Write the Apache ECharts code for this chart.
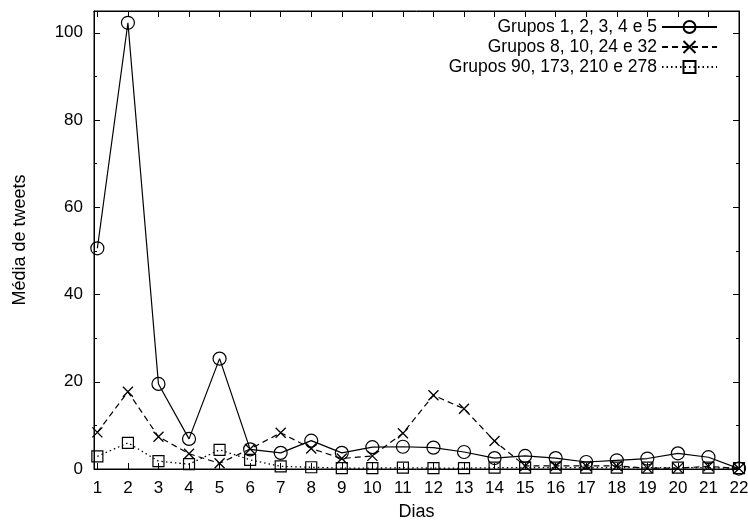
<!DOCTYPE html>
<html>
<head>
<meta charset="utf-8">
<script src="https://cdn.jsdelivr.net/npm/echarts@6/dist/echarts.min.js"></script>
<style>html,body{margin:0;padding:0;background:#fff}#c{width:748px;height:524px}</style>
</head>
<body>
<div id="c"></div>
<script>
const days = [1,2,3,4,5,6,7,8,9,10,11,12,13,14,15,16,17,18,19,20,21,22];
const seriesNames = ['Grupos 1, 2, 3, 4 e 5', 'Grupos 8, 10, 24 e 32', 'Grupos 90, 173, 210 e 278'];
const grupos1 = [50.6, 102.3, 19.5, 6.9, 25.3, 4.5, 3.7, 6.5, 3.7, 5.0, 5.1, 4.9, 3.9, 2.5, 3.0, 2.5, 1.6, 2.0, 2.4, 3.6, 2.7, 0.1];
const grupos2 = [8.4, 17.7, 7.4, 3.5, 1.3, 4.6, 8.3, 4.7, 2.4, 3.0, 8.2, 16.9, 13.8, 6.4, 0.7, 0.7, 0.7, 0.7, 0.2, 0.2, 0.6, 0.1];
const grupos3 = [2.9, 6.0, 1.8, 1.1, 4.4, 2.1, 0.6, 0.4, 0.2, 0.2, 0.3, 0.2, 0.2, 0.3, 0.3, 0.3, 0.3, 0.3, 0.3, 0.3, 0.3, 0.2];
const yTicks = [0, 20, 40, 60, 80, 100];

const font = '"Liberation Sans", Arial, Helvetica, sans-serif';
const fs = 17;
const chart = echarts.init(document.getElementById('c'));
const pair = v => days.map((d, i) => [d, v[i]]);
const xMin = 0.89, xMax = 22, yMin = 0, yMax = 105;

const xBase = {
  type: 'value', min: xMin, max: xMax,
  axisLine: {show: true, onZero: false, lineStyle: {color: '#000', width: 1}},
  axisTick: {show: true, inside: true, length: 6, customValues: days, lineStyle: {color: '#000'}},
  splitLine: {show: false}
};
const yBase = {
  type: 'value', min: yMin, max: yMax, interval: 20,
  axisLine: {show: true, onZero: false, lineStyle: {color: '#000', width: 1}},
  axisTick: {show: true, inside: true, length: 6, customValues: yTicks, lineStyle: {color: '#000'}},
  minorTick: {show: true, splitNumber: 2, length: 3, lineStyle: {color: '#000'}},
  splitLine: {show: false}
};

chart.setOption({
  animation: false,
  backgroundColor: '#fff',
  textStyle: {fontFamily: font, color: '#000'},
  grid: {left: 94, right: 9, top: 11, bottom: 55, show: true, borderColor: '#000', borderWidth: 1, containLabel: false, outerBoundsMode: 'none'},
  legend: {
    orient: 'vertical', right: 25, top: 13, align: 'right',
    itemWidth: 55, itemHeight: 15, itemGap: 2,
    textStyle: {fontFamily: font, fontSize: 17.5, lineHeight: 15, color: '#000'},
    data: seriesNames
  },
  xAxis: [
    Object.assign({}, xBase, {
      position: 'bottom', name: 'Dias', nameLocation: 'middle', nameGap: 34,
      nameTextStyle: {fontFamily: font, fontSize: 18, color: '#000'},
      axisLabel: {show: true, customValues: days, fontFamily: font, fontSize: fs, color: '#000', margin: 11}
    }),
    Object.assign({}, xBase, {position: 'top', axisLabel: {show: false}})
  ],
  yAxis: [
    Object.assign({}, yBase, {
      position: 'left', name: 'Média de tweets', nameLocation: 'middle', nameGap: 65,
      nameTextStyle: {fontFamily: font, fontSize: 18, color: '#000'},
      axisLabel: {show: true, customValues: yTicks, fontFamily: font, fontSize: fs, color: '#000', margin: 11}
    }),
    Object.assign({}, yBase, {position: 'right', axisLabel: {show: false}})
  ],
  series: [
    {
      name: seriesNames[0], type: 'line', data: pair(grupos1),
      symbol: 'circle', symbolSize: 13,
      lineStyle: {color: '#000', width: 1.2, type: 'solid'},
      itemStyle: {color: 'rgba(0,0,0,0)', borderColor: '#000', borderWidth: 1.2}
    },
    {
      name: seriesNames[1], type: 'line', data: pair(grupos2),
      symbol: 'path://M0,0L10,10M10,0L0,10', symbolSize: 10,
      lineStyle: {color: '#000', width: 1.2, type: [6, 4]},
      itemStyle: {color: 'rgba(0,0,0,0)', borderColor: '#000', borderWidth: 1.3}
    },
    {
      name: seriesNames[2], type: 'line', data: pair(grupos3),
      symbol: 'rect', symbolSize: 11,
      lineStyle: {color: '#000', width: 1.3, type: [1.5, 3]},
      itemStyle: {color: 'rgba(0,0,0,0)', borderColor: '#000', borderWidth: 1.2}
    }
  ]
});
</script>
</body>
</html>
